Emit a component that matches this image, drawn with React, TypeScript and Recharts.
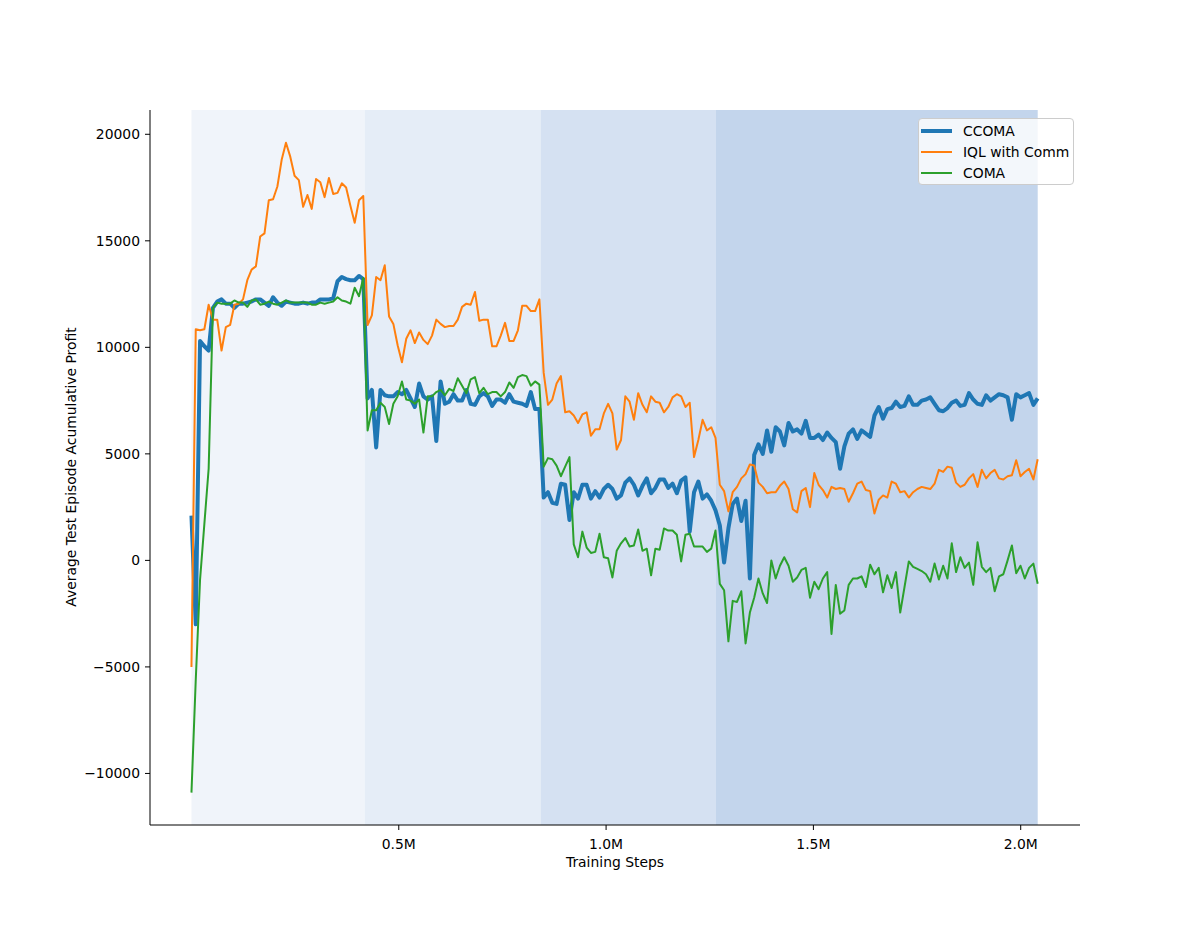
import { Label, Legend, Line, LineChart, ReferenceArea, XAxis, YAxis } from "recharts";

// test evaluations, one every ~10K training steps
const ccoma = [
  2100, -3000, 10300, 10050, 9850, 11850, 12150, 12250, 12050, 12050, 11850, 12050, 12050, 12100, 12150, 12250, 12250, 12100, 11950, 12350,
  12100, 11950, 12150, 12100, 12050, 12050, 12100, 12050, 12100, 12100, 12250, 12250, 12250, 12300, 13100, 13300, 13200, 13150, 13150, 13350, 13200,
  7600, 8000, 5300, 8000, 7750, 7700, 7700, 7900, 7800, 8000, 7600, 7200, 8300, 7700, 7550, 7700, 5600, 8400, 7350, 7450,
  7800, 7500, 7500, 8000, 7350, 7300, 7700, 7850, 7700, 7250, 7550, 7550, 7400, 7800, 7450, 7400, 7350, 7250, 7900, 7100, 7100,
  2950, 3200, 2700, 2650, 3600, 3550, 1900, 3200, 2900, 3550, 3550, 2900, 3250, 2950, 3350, 3550, 3350, 2900, 3050, 3650,
  3850, 3550, 3050, 3500, 3850, 3150, 3400, 3800, 3800, 3400, 3600, 3150, 3750, 3900, 1350, 3200, 3700, 2900, 3100, 2800, 2350,
  1650, -100, 1500, 2650, 2900, 1850, 2800, -850, 4950, 5450, 5000, 6100, 5100, 6250, 6050, 5400, 6450, 6050, 6150, 5950,
  6550, 5750, 5750, 5900, 5650, 6000, 5750, 5550, 4300, 5350, 5950, 6150, 5700, 6100, 5950, 5800, 6800, 7200, 6650, 7100,
  7150, 7450, 7200, 7250, 7700, 7300, 7300, 7500, 7550, 7650, 7350, 7050, 7000, 7150, 7400, 7500, 7250, 7300, 7850, 7550,
  7350, 7300, 7750, 7500, 7650, 7800, 7750, 7650, 6600, 7800, 7650, 7750, 7850, 7300, 7600,
];

const iqlComm = [
  -5000, 10850, 10800, 10850, 12000, 11300, 11300, 9850, 10950, 11050, 12000, 12050, 12250, 13150, 13650, 13800, 15200, 15350, 16900, 16950,
  17550, 18800, 19600, 18950, 18050, 17850, 16600, 17150, 16500, 17900, 17750, 17050, 17950, 17200, 17250, 17700, 17500, 16650, 15850, 16900, 17100,
  11050, 11500, 13300, 13150, 13850, 11450, 11100, 10100, 9300, 10400, 10800, 10200, 10700, 10350, 10150, 10550, 11300, 11100, 10950, 11000,
  11000, 11300, 11900, 12050, 12000, 12600, 11250, 11300, 11300, 10050, 10050, 10550, 11150, 10300, 10300, 10800, 11950, 11950, 11700, 11700, 12250,
  8800, 7300, 7550, 8300, 8650, 6950, 7000, 6800, 6450, 6850, 6950, 5850, 6150, 6150, 6900, 7350, 6900, 5200, 5650, 7700,
  7450, 6600, 7850, 7300, 6950, 7700, 7450, 7400, 6950, 7200, 7650, 7800, 7700, 7200, 7400, 4850, 5650, 6600, 6100, 6250, 5750,
  3550, 3250, 2300, 3200, 3450, 3850, 4050, 4500, 4450, 3650, 3450, 3150, 3200, 3200, 3500, 3700, 3350, 2400, 2250, 3250,
  3400, 2500, 4100, 3550, 3300, 2950, 3450, 3350, 3400, 3350, 2750, 3150, 3600, 3700, 3300, 3250, 2200, 2850, 3050, 2950,
  3700, 3600, 3200, 3250, 2950, 3200, 3350, 3450, 3400, 3350, 3600, 4250, 4150, 4400, 4350, 3650, 3450, 3550, 3850, 4050,
  3450, 4250, 3850, 4100, 4250, 3850, 3800, 3950, 4000, 4700, 3950, 4150, 4300, 3800, 4750,
];

const coma = [
  -10900, -5600, -900, 1700, 4300, 11850, 12100, 12050, 12050, 12050, 12200, 12100, 12100, 11900, 12200, 12250, 12000, 12050, 12150, 12050,
  12000, 12100, 12200, 12100, 12100, 12100, 12100, 12100, 12000, 12000, 12100, 12050, 12100, 12150, 12350, 12200, 12150, 12050, 12800, 12400, 13250,
  6100, 7050, 7050, 7400, 7200, 6400, 7350, 7700, 8400, 7550, 7500, 7350, 7550, 6000, 7700, 7700, 7900, 8000, 7750, 8050,
  7950, 8550, 8200, 7850, 8500, 8600, 7850, 8100, 7800, 7900, 7900, 7700, 7900, 8350, 8100, 8600, 8700, 8650, 8200, 8400, 8250,
  4400, 4800, 4750, 4450, 3950, 4400, 4850, 750, 150, 1350, 600, 350, 400, 1250, 150, 100, -800, 450, 800, 1050,
  650, 700, 1450, 450, 550, -700, 550, 500, 1500, 1400, 1400, 1200, -50, 1200, 1250, 650, 650, 650, 400, 550, 1400,
  -1100, -1400, -3800, -1900, -1950, -1450, -3900, -2450, -1750, -850, -1550, -2000, 0, -850, -250, 150, -250, -1000, -800, -450,
  -350, -1750, -1000, -1350, -850, -550, -3450, -1150, -2500, -2350, -1150, -850, -850, -750, -1250, -200, -650, -350, -1500, -700,
  -1300, -550, -2450, -1250, -50, -300, -400, -500, -650, -1000, -150, -900, -250, -850, 800, -550, 150, -350, -100, -1150,
  850, -300, -550, -350, -1450, -750, -650, 0, 700, -600, -250, -850, -350, -150, -1100,
];

const STEP = 10360;
const xTicks = [500000, 1000000, 1500000, 2000000];
const xTickLabels = ["0.5M", "1.0M", "1.5M", "2.0M"];
const yTicks = [-10000, -5000, 0, 5000, 10000, 15000, 20000];
const yTickLabels = ["\u221210000", "\u22125000", "0", "5000", "10000", "15000", "20000"];
// curriculum phases (shaded background)
const phaseEdges = [0, 418000, 842000, 1265000, 2041000];
const phaseColors = ["#f0f4fa", "#e5edf7", "#d5e1f2", "#c3d5ec"];

const series = [
  { key: "ccoma", name: "CCOMA", color: "#1f77b4", width: 4 },
  { key: "iql", name: "IQL with Comm", color: "#ff7f0e", width: 2 },
  { key: "coma", name: "COMA", color: "#2ca02c", width: 2 },
];

const data = ccoma.map((v, i) => ({ step: i * STEP, ccoma: v, iql: iqlComm[i], coma: coma[i] }));

const FONT = "DejaVu Sans";
const tickStyle = { fill: "#000", fontSize: 13.9, fontFamily: FONT };

const LegendBox = () => (
  <div
    style={{
      boxSizing: "border-box",
      width: 156,
      height: 67,
      border: "1px solid #cccccc",
      borderRadius: 4,
      background: "rgba(255,255,255,0.8)",
      paddingTop: 1,
      fontFamily: FONT,
      fontSize: 13.9,
      color: "#000",
    }}
  >
    {series.map((s) => (
      <div key={s.key} style={{ display: "flex", alignItems: "center", height: 21 }}>
        <svg width={44} height={10} style={{ flex: "none" }}>
          <line x1={2} x2={33} y1={5} y2={5} stroke={s.color} strokeWidth={s.width} />
        </svg>
        <span style={{ whiteSpace: "nowrap" }}>{s.name}</span>
      </div>
    ))}
  </div>
);

const App = () => {
  return (
    <div style={{ position: "absolute", left: 0, top: 0, width: 1200, height: 927, background: "#fff" }}>
      <LineChart width={1200} height={927} data={data} margin={{ top: 110, right: 120, bottom: 62, left: 0 }}>
        <XAxis
          dataKey="step"
          type="number"
          domain={[-100000, 2143000]}
          ticks={xTicks}
          tickFormatter={(v) => xTickLabels[xTicks.indexOf(v)]}
          allowDataOverflow
          height={40}
          stroke="#000"
          tickSize={5}
          tickMargin={9}
          tick={tickStyle}
        >
          <Label
            content={() => (
              <text x={615} y={867} textAnchor="middle" fontFamily={FONT} fontSize={13.9} fill="#000">
                Training Steps
              </text>
            )}
          />
        </XAxis>
        <YAxis
          type="number"
          domain={[-12420, 21140]}
          ticks={yTicks}
          tickFormatter={(v) => yTickLabels[yTicks.indexOf(v)]}
          allowDataOverflow
          width={150}
          stroke="#000"
          tickSize={5}
          tickMargin={5}
          tick={tickStyle}
        >
          <Label
            content={() => (
              <text
                x={71}
                y={467}
                transform="rotate(-90 71 467)"
                textAnchor="middle"
                dominantBaseline="central"
                fontFamily={FONT}
                fontSize={13.9}
                fill="#000"
              >
                Average Test Episode Acumulative Profit
              </text>
            )}
          />
        </YAxis>
        {phaseColors.map((c, i) => (
          <ReferenceArea
            key={c}
            x1={phaseEdges[i]}
            x2={phaseEdges[i + 1]}
            fill={c}
            fillOpacity={1}
            stroke="none"
          />
        ))}
        {series.map((s) => (
          <Line
            key={s.key}
            type="linear"
            dataKey={s.key}
            name={s.name}
            stroke={s.color}
            strokeWidth={s.width}
            strokeLinejoin="round"
            dot={false}
            activeDot={false}
            isAnimationActive={false}
          />
        ))}
        <Legend
          layout="vertical"
          align="center"
          verticalAlign="middle"
          wrapperStyle={{ left: 918, top: 118, width: 156, height: 67 }}
          content={() => <LegendBox />}
        />
      </LineChart>
    </div>
  );
};

export default App;
